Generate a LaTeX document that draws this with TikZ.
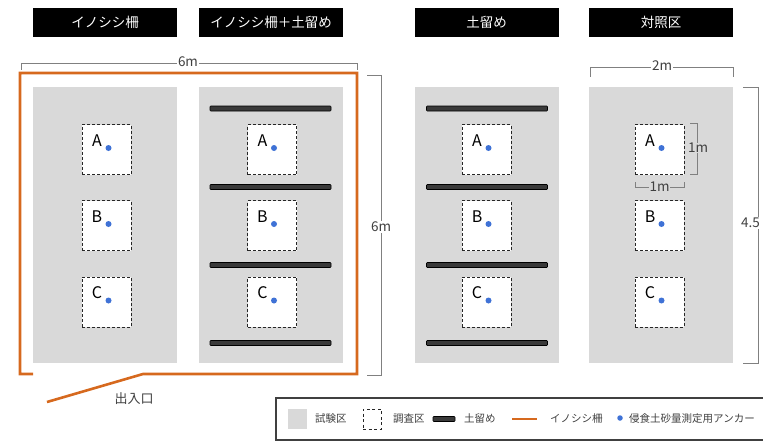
\documentclass[tikz,border=0pt]{standalone}
\usepackage{fontspec}
\setmainfont{Noto Sans CJK JP}
\definecolor{panelgray}{HTML}{D9D9D9}
\definecolor{fenceorange}{HTML}{D6691E}
\definecolor{anchorblue}{HTML}{3F72D6}
\definecolor{dimgray}{HTML}{808080}
\definecolor{bardark}{HTML}{3A3A3A}
\definecolor{legtext}{HTML}{404040}
\begin{document}
\begin{tikzpicture}[x=1pt,y=-1pt,
  hdr/.style={fill=black,text=white,minimum width=144pt,minimum height=29pt,inner sep=0pt,font=\fontsize{13.5}{15}\selectfont},
  panel/.style={fill=panelgray,minimum width=144pt,minimum height=276pt,inner sep=0pt},
  plot/.style={draw=black!85,fill=white,dashed,dash pattern=on 3pt off 2pt,line width=1pt,minimum width=49pt,minimum height=50pt,inner sep=0pt},
  plotlbl/.style={font=\fontsize{16}{18}\selectfont,inner sep=0pt},
  anchordot/.style={circle,fill=anchorblue,minimum size=6pt,inner sep=0pt},
  soilbar/.style={fill=bardark,draw=black,line width=0.6pt,rounded corners=0.8pt,minimum height=5pt,minimum width=121pt,inner sep=0pt},
  dim/.style={draw=dimgray,line width=0.8pt},
  dimlbl/.style={text=legtext,font=\fontsize{13.5}{15}\selectfont,inner sep=1pt},
  fence/.style={draw=fenceorange,line width=2.6pt},
  legtxt/.style={text=legtext,font=\fontsize{10.5}{12}\selectfont,inner sep=0pt,anchor=west}
]
\useasboundingbox (0,0) rectangle (763,444);
\clip (0,0) rectangle (763,444);

% headers
\node[hdr] (h1) at (105,22.5) {イノシシ柵};
\node[hdr] (h2) at (271,22.5) {イノシシ柵＋土留め};
\node[hdr] (h3) at (486.5,22.5) {土留め};
\node[hdr] (h4) at (661,22.5) {対照区};

% panels
\node[panel] (p1) at (105,225) {};
\node[panel] (p2) at (270.5,225) {};
\node[panel] (p3) at (486.5,225) {};
\node[panel] (p4) at (661,225) {};

% soil bars
\foreach \y [count=\i] in {108.5,187,265,343}{
  \node[soilbar] (sb2\i) at (270.5,\y) {};
  \node[soilbar] (sb3\i) at (487,\y) {};
}

% plots
\foreach \px/\pn in {106.5/1,272/2,486.5/3,659.5/4}{
  \foreach \py/\lab in {149.5/A,225.5/B,302/C}{
    \node[plot] (q\pn\lab) at (\px,\py) {};
    \node[plotlbl] (l\pn\lab) at ([xshift=-9.5pt,yshift=9pt]q\pn\lab.center) {\lab};
    \node[anchordot] (d\pn\lab) at ([xshift=2pt,yshift=1.5pt]q\pn\lab.center) {};
  }
}

% fence
\coordinate (fa) at (33,374);
\coordinate (fb) at (20,374);
\coordinate (fc) at (20,73);
\coordinate (fd) at (357,73);
\coordinate (fe) at (357,374);
\coordinate (ff) at (143,374);
\coordinate (fg) at (47,402);
\draw[fence,line join=miter] (fa) -- (fb) -- (fc) -- (fd) -- (fe) -- (ff) -- (fg);
\node[text=legtext,font=\fontsize{13}{15}\selectfont,inner sep=0pt] (gate) at (134,399) {出入口};

% dimension 6m top
\draw[dim] (21,70) -- (21,63) -- (357,63) -- (357,70);
\node[dimlbl,fill=white] (d6h) at (188,61.5) {6m};
% dimension 6m vertical
\draw[dim] (367,75) -- (381,75) -- (381,375) -- (367,375);
\node[dimlbl,fill=white] (d6v) at (381,227) {6m};
% dimension 2m
\draw[dim] (590,77) -- (590,67) -- (733,67) -- (733,77);
\node[dimlbl,fill=white] (d2) at (662,66) {2m};
% dimension 4.5
\draw[dim] (743,87) -- (758,87) -- (758,363) -- (743,363);
\node[dimlbl,fill=white,anchor=west] (d45) at (740,223) {4.5};
% 1m vertical
\draw[dim] (690,123) -- (697,123) -- (697,174) -- (690,174);
\node[dimlbl,fill=panelgray,inner sep=0.5pt] (d1v) at (698,148) {1m};
% 1m horizontal
\draw[dim] (635,182) -- (635,187) -- (684,187) -- (684,182);
\node[dimlbl,fill=panelgray,inner sep=0.5pt] (d1h) at (659.5,186.5) {1m};

% legend
\draw[draw=legtext,line width=1.3pt] (276,398) rectangle (770,440);
\node[fill=panelgray,minimum width=19pt,minimum height=20pt,inner sep=0pt] (lg1) at (297.5,419) {};
\node[legtxt] (lt1) at (315,419) {試験区};
\node[draw=black!85,dashed,dash pattern=on 3pt off 2.5pt,line width=1pt,minimum width=18pt,minimum height=20pt,inner sep=0pt] (lg2) at (372,419) {};
\node[legtxt] (lt2) at (393,419) {調査区};
\node[fill=bardark,draw=black,line width=0.6pt,rounded corners=0.8pt,minimum width=22pt,minimum height=5pt,inner sep=0pt] (lg3) at (444,419) {};
\node[legtxt] (lt3) at (464,419) {土留め};
\coordinate (lo1) at (512,419);
\coordinate (lo2) at (537,419);
\draw[draw=fenceorange,line width=2pt] (lo1) -- (lo2);
\node[legtxt] (lt4) at (550,419) {イノシシ柵};
\node[anchordot,minimum size=5.5pt] (lg5) at (620,418) {};
\node[legtxt] (lt5) at (629,419) {侵食土砂量測定用アンカー};
\end{tikzpicture}
\end{document}
